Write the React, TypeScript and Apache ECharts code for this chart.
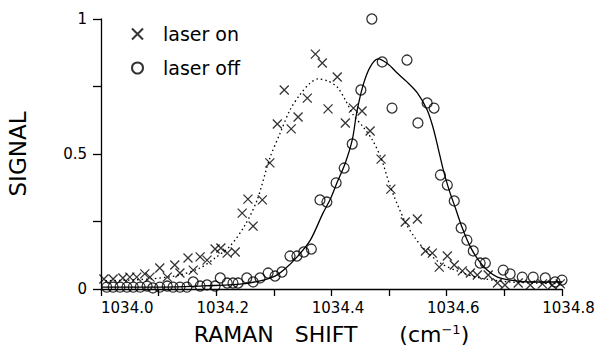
import React, { useEffect, useRef } from "react";
import * as echarts from "echarts";

// laser on (× markers)
const onX = [1034.005,1034.021,1034.038,1034.050,1034.062,1034.076,1034.085,1034.102,1034.115,1034.128,1034.137,1034.151,1034.160,1034.172,1034.184,1034.198,1034.208,1034.219,1034.233,1034.245,1034.255,1034.264,1034.280,1034.293,1034.306,1034.318,1034.330,1034.342,1034.358,1034.372,1034.384,1034.394,1034.410,1034.424,1034.438,1034.453,1034.467,1034.486,1034.503,1034.528,1034.549,1034.563,1034.575,1034.587,1034.601,1034.613,1034.627,1034.641,1034.653,1034.672,1034.688,1034.701,1034.724,1034.745,1034.766,1034.783,1034.797];
const onY = [0.037,0.037,0.041,0.044,0.044,0.056,0.044,0.078,0.044,0.089,0.059,0.115,0.070,0.119,0.107,0.148,0.152,0.133,0.137,0.281,0.333,0.233,0.330,0.467,0.611,0.737,0.593,0.637,0.707,0.870,0.837,0.667,0.785,0.615,0.670,0.659,0.585,0.481,0.370,0.248,0.259,0.141,0.133,0.081,0.122,0.089,0.067,0.059,0.052,0.052,0.022,0.015,0.022,0.015,0.019,0.015,0.019];

// laser off (○ markers)
const offX = [1034.010,1034.021,1034.033,1034.045,1034.056,1034.068,1034.080,1034.090,1034.102,1034.115,1034.125,1034.137,1034.149,1034.160,1034.172,1034.184,1034.198,1034.207,1034.219,1034.229,1034.238,1034.253,1034.264,1034.276,1034.290,1034.302,1034.314,1034.328,1034.340,1034.352,1034.365,1034.380,1034.392,1034.408,1034.422,1034.436,1034.451,1034.470,1034.488,1034.505,1034.531,1034.550,1034.566,1034.578,1034.589,1034.601,1034.613,1034.625,1034.635,1034.646,1034.658,1034.667,1034.698,1034.710,1034.731,1034.750,1034.771,1034.788,1034.800];
const offY = [0.007,0.007,0.007,0.007,0.007,0.007,0.011,0.004,0.007,0.011,0.007,0.007,0.007,0.026,0.011,0.015,0.011,0.041,0.022,0.022,0.022,0.041,0.026,0.041,0.059,0.048,0.063,0.122,0.122,0.137,0.148,0.330,0.322,0.393,0.448,0.537,0.737,1.0,0.841,0.670,0.848,0.615,0.689,0.670,0.422,0.385,0.326,0.226,0.181,0.141,0.096,0.096,0.070,0.056,0.044,0.044,0.041,0.026,0.033];

// fitted curve, laser off (solid)
const solidX = [1034.000,1034.085,1034.172,1034.241,1034.276,1034.302,1034.319,1034.340,1034.363,1034.385,1034.398,1034.410,1034.424,1034.436,1034.444,1034.455,1034.467,1034.481,1034.498,1034.514,1034.531,1034.549,1034.566,1034.576,1034.585,1034.594,1034.604,1034.615,1034.627,1034.641,1034.655,1034.670,1034.688,1034.710,1034.745,1034.800];
const solidY = [0.007,0.007,0.011,0.018,0.030,0.048,0.074,0.118,0.180,0.280,0.333,0.396,0.467,0.552,0.656,0.756,0.822,0.852,0.833,0.800,0.767,0.726,0.663,0.600,0.522,0.441,0.367,0.300,0.226,0.156,0.107,0.070,0.044,0.033,0.026,0.026];

// fitted curve, laser on (dotted)
const dotX = [1034.000,1034.085,1034.137,1034.172,1034.198,1034.224,1034.250,1034.271,1034.293,1034.311,1034.328,1034.345,1034.363,1034.377,1034.394,1034.410,1034.424,1034.438,1034.455,1034.471,1034.486,1034.503,1034.528,1034.545,1034.563,1034.589,1034.623,1034.658,1034.710,1034.800];
const dotY = [0.030,0.037,0.052,0.078,0.115,0.159,0.237,0.330,0.485,0.578,0.663,0.719,0.763,0.778,0.770,0.748,0.700,0.644,0.600,0.552,0.485,0.374,0.248,0.189,0.144,0.096,0.063,0.041,0.026,0.019];

const xTickLabels = ["1034.0", "1034.2", "1034.4", "1034.6", "1034.8"];
const yTickLabels: Record<string, string> = { "0": "0", "0.5": "0.5", "1": "1" };

const FONT = "DejaVu Sans";
const BLACK = "#000";

export default function App() {
  const ref = useRef<HTMLDivElement>(null);
  useEffect(() => {
    if (!ref.current) return;
    const chart = echarts.init(ref.current, undefined, { renderer: "svg" });
    const pair = (xs: number[], ys: number[]) => xs.map((x, i) => [x, ys[i]]);
    const markStyle = { color: "transparent", borderColor: BLACK, borderWidth: 1.3 };
    chart.setOption({
      animation: false,
      backgroundColor: "#fff",
      textStyle: { fontFamily: FONT, color: BLACK },
      grid: { left: 101, top: 19, width: 461, height: 270, containLabel: false, outerBoundsMode: "none" },
      legend: {
        data: ["laser on", "laser off"],
        orient: "vertical",
        left: 126,
        top: 19,
        itemWidth: 13,
        itemHeight: 11,
        itemGap: 14,
        textStyle: { fontFamily: FONT, fontSize: 19, lineHeight: 20, color: BLACK, padding: [0, 0, 0, 14] },
      },
      xAxis: {
        type: "value",
        min: 1034.0,
        max: 1034.8,
        interval: 0.1,
        splitLine: { show: false },
        axisLine: { onZero: false, lineStyle: { color: BLACK, width: 1.3 } },
        axisTick: { inside: false, length: 7, lineStyle: { color: BLACK, width: 1.3 } },
        axisLabel: {
          margin: 11,
          color: BLACK,
          fontFamily: FONT,
          fontSize: 15,
          alignMinLabel: "left",
          showMinLabel: true,
          showMaxLabel: true,
          formatter: (v: number) => {
            const i = Math.round((v - 1034) * 10);
            if (i % 2 !== 0) return "";
            const s = xTickLabels[i / 2];
            return i === 0 ? `{a|${s}}` : `{b|${s}}`;
          },
          rich: {
            a: { fontFamily: FONT, fontSize: 15, color: BLACK },
            b: { fontFamily: FONT, fontSize: 15, color: BLACK, padding: [0, 0, 0, 13] },
          },
        },
        name: "{t|RAMAN   SHIFT      (cm}{s|−1}{t|)}",
        nameLocation: "middle",
        nameGap: 34,
        nameTextStyle: {
          rich: {
            t: { fontFamily: FONT, fontSize: 22, color: BLACK, lineHeight: 22 },
            s: { fontFamily: FONT, fontSize: 13, color: BLACK, verticalAlign: "top", lineHeight: 22 },
          },
        },
      },
      yAxis: {
        type: "value",
        min: 0,
        max: 1,
        interval: 0.25,
        splitLine: { show: false },
        axisLine: { onZero: false, lineStyle: { color: BLACK, width: 1.3 } },
        axisTick: { inside: false, length: 8, lineStyle: { color: BLACK, width: 1.3 } },
        axisLabel: {
          margin: 14,
          color: BLACK,
          fontFamily: FONT,
          fontSize: 15,
          formatter: (v: number) => yTickLabels[String(v)] ?? "",
        },
        name: "SIGNAL",
        nameLocation: "middle",
        nameRotate: 90,
        nameGap: 72,
        nameTextStyle: { fontFamily: FONT, fontSize: 23, color: BLACK },
      },
      series: [
        {
          name: "fit on",
          type: "line",
          data: pair(dotX, dotY),
          showSymbol: false,
          smooth: 0.3,
          lineStyle: { color: BLACK, width: 1.3, type: [1.5, 3] },
          silent: true,
          z: 1,
        },
        {
          name: "fit off",
          type: "line",
          data: pair(solidX, solidY),
          showSymbol: false,
          smooth: 0.3,
          lineStyle: { color: BLACK, width: 1.3 },
          silent: true,
          z: 1,
        },
        {
          name: "laser on",
          type: "scatter",
          data: pair(onX, onY),
          symbol: "path://M0,0L10,10M10,0L0,10",
          symbolSize: 9,
          itemStyle: markStyle,
          clip: false,
          z: 3,
        },
        {
          name: "laser off",
          type: "scatter",
          data: pair(offX, offY),
          symbol: "circle",
          symbolSize: 10,
          itemStyle: markStyle,
          clip: false,
          z: 3,
        },
      ],
    });
    return () => chart.dispose();
  }, []);
  return (
    <div
      ref={ref}
      style={{ position: "absolute", left: 0, top: 0, width: 601, height: 348, background: "#fff" }}
    />
  );
}
